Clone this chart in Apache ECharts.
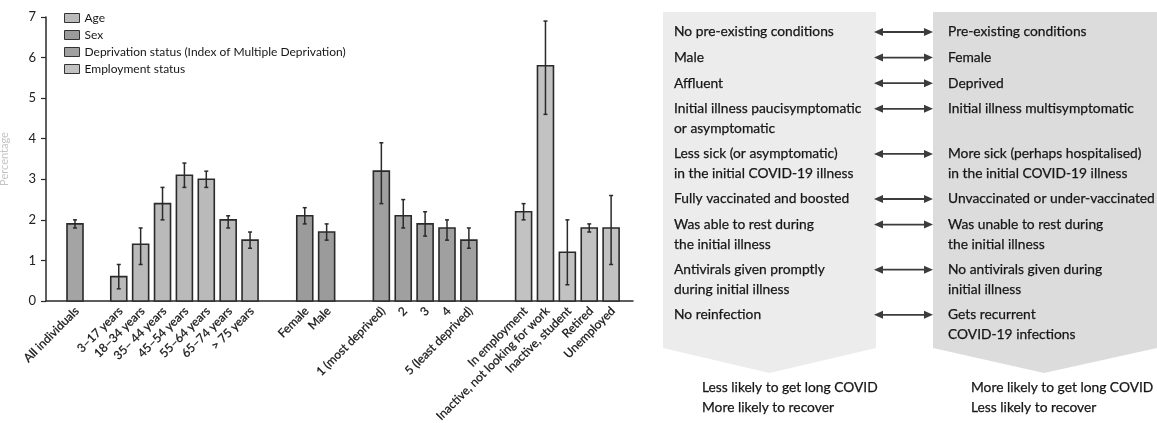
<!DOCTYPE html>
<html><head><meta charset="utf-8">
<script src="https://cdn.jsdelivr.net/npm/echarts@6.0.0/dist/echarts.min.js"></script>
<style>html,body{margin:0;padding:0;background:#fff}#c{width:1157px;height:423px}</style>
</head><body><div id="c"></div><script>
// ---------- DATA ----------
const allLabels = ['All individuals'];
const allValues = [1.9];
const allLow = [1.8];
const allHigh = [2.0];

const ageLabels = ['3–17 years', '18–34 years', '35– 44 years', '45–54 years', '55–64 years', '65–74 years', '> 75 years'];
const ageValues = [0.6, 1.4, 2.4, 3.1, 3.0, 2.0, 1.5];
const ageLow = [0.3, 0.9, 2.0, 2.8, 2.8, 1.8, 1.3];
const ageHigh = [0.9, 1.8, 2.8, 3.4, 3.2, 2.1, 1.7];

const sexLabels = ['Female', 'Male'];
const sexValues = [2.1, 1.7];
const sexLow = [1.9, 1.5];
const sexHigh = [2.3, 1.9];

const depLabels = ['1 (most deprived)', '2', '3', '4', '5 (least deprived)'];
const depValues = [3.2, 2.1, 1.9, 1.8, 1.5];
const depLow = [2.4, 1.8, 1.6, 1.5, 1.3];
const depHigh = [3.9, 2.5, 2.2, 2.0, 1.8];

const empLabels = ['In employment', 'Inactive, not looking for work', 'Inactive, student', 'Retired', 'Unemployed'];
const empValues = [2.2, 5.8, 1.2, 1.8, 1.8];
const empLow = [2.0, 4.6, 0.4, 1.7, 0.9];
const empHigh = [2.4, 6.9, 2.0, 1.9, 2.6];

const legendNames = ['Age', 'Sex', 'Deprivation status (Index of Multiple Deprivation)', 'Employment status'];
const yTicks = [0, 1, 2, 3, 4, 5, 6, 7];

const leftFactors = ['No pre-existing conditions', 'Male', 'Affluent', 'Initial illness paucisymptomatic\nor asymptomatic',
  'Less sick (or asymptomatic)\nin the initial COVID-19 illness', 'Fully vaccinated and boosted',
  'Was able to rest during\nthe initial illness', 'Antivirals given promptly\nduring initial illness', 'No reinfection'];
const rightFactors = ['Pre-existing conditions', 'Female', 'Deprived', 'Initial illness multisymptomatic',
  'More sick (perhaps hospitalised)\nin the initial COVID-19 illness', 'Unvaccinated or under-vaccinated',
  'Was unable to rest during\nthe initial illness', 'No antivirals given during\ninitial illness', 'Gets recurrent\nCOVID-19 infections'];
const leftOutcome = 'Less likely to get long COVID\nMore likely to recover';
const rightOutcome = 'More likely to get long COVID\nLess likely to recover';

// ---------- LAYOUT ----------
const FONT = 'Lato, "Open Sans", sans-serif';
const INK = '#161616';
const groupStart = [2.65, 6.65, 23.65, 30.65, 43.65]; // axis units
const STEP = 2;
const BAR_W = 16;
const groups = [
  {name: 'All individuals', labels: allLabels, v: allValues, lo: allLow, hi: allHigh, color: '#a4a4a4'},
  {name: legendNames[0], labels: ageLabels, v: ageValues, lo: ageLow, hi: ageHigh, color: '#bababa'},
  {name: legendNames[1], labels: sexLabels, v: sexValues, lo: sexLow, hi: sexHigh, color: '#9b9b9b'},
  {name: legendNames[2], labels: depLabels, v: depValues, lo: depLow, hi: depHigh, color: '#a0a0a0'},
  {name: legendNames[3], labels: empLabels, v: empValues, lo: empLow, hi: empHigh, color: '#c2c2c2'}
];

const series = groups.map((g, gi) => ({
  type: 'custom',
  name: g.name,
  itemStyle: {color: g.color},
  clip: false,
  data: g.v.map((v, i) => [groupStart[gi] + STEP * i, v, g.lo[i], g.hi[i]]),
  renderItem: function (params, api) {
    const x = api.value(0), v = api.value(1), lo = api.value(2), hi = api.value(3);
    const base = api.coord([x, 0]);
    const top = api.coord([x, v]);
    const pLo = api.coord([x, lo]);
    const pHi = api.coord([x, hi]);
    const cx = base[0];
    const ink = '#2a2a2a';
    return {
      type: 'group',
      children: [
        {type: 'rect', shape: {x: cx - BAR_W / 2, y: top[1], width: BAR_W, height: base[1] - top[1]},
          style: {fill: g.color, stroke: ink, lineWidth: 1.6}},
        {type: 'line', shape: {x1: cx, y1: pHi[1], x2: cx, y2: pLo[1]}, style: {stroke: ink, lineWidth: 1.5}},
        {type: 'line', shape: {x1: cx - 2, y1: pHi[1], x2: cx + 2, y2: pHi[1]}, style: {stroke: ink, lineWidth: 1.5}},
        {type: 'line', shape: {x1: cx - 2, y1: pLo[1], x2: cx + 2, y2: pLo[1]}, style: {stroke: ink, lineWidth: 1.5}},
        {type: 'text', x: cx + 2, y: base[1] + 8, rotation: Math.PI / 4,
          style: {text: g.labels[params.dataIndex], align: 'right', verticalAlign: 'middle',
            font: '12px ' + FONT, fill: INK, stroke: INK, lineWidth: 0.25}}
      ]
    };
  }
}));

// ---------- RIGHT PANEL ----------
const graphic = [];
const L = {x0: 663, x1: 876}, R = {x0: 933, x1: 1157};
const boxTop = 12, boxBot = 348, apex = 373;
graphic.push({type: 'polygon', shape: {points: [[L.x0, boxTop], [L.x1, boxTop], [L.x1, boxBot], [(L.x0 + L.x1) / 2, apex], [L.x0, boxBot]]},
  style: {fill: '#ececec'}, z: 0});
graphic.push({type: 'polygon', shape: {points: [[R.x0, boxTop], [R.x1, boxTop], [R.x1, boxBot], [(R.x0 + 1155) / 2, apex], [R.x0, boxBot]]},
  style: {fill: '#dcdcdc'}, z: 0});
const LH = 19.5;
const TFONT = '13.8px ' + FONT;
const tstyle = (t) => ({text: t, font: TFONT, fill: INK, stroke: INK, lineWidth: 0.25, lineHeight: LH, verticalAlign: 'top'});
let extra = 0;
leftFactors.forEach((t, i) => {
  const y = 32 + 25.6 * i + LH * extra;
  graphic.push({type: 'text', x: 674, y: y - LH / 2, style: tstyle(t), z: 2});
  graphic.push({type: 'text', x: 948, y: y - LH / 2, style: tstyle(rightFactors[i]), z: 2});
  const ac = '#3c3c3c';
  graphic.push({type: 'line', shape: {x1: 880, y1: y, x2: 928, y2: y}, style: {stroke: ac, lineWidth: 1.8}, z: 2});
  graphic.push({type: 'polygon', shape: {points: [[874, y], [883, y - 4], [883, y + 4]]}, style: {fill: ac}, z: 2});
  graphic.push({type: 'polygon', shape: {points: [[933, y], [924, y - 4], [924, y + 4]]}, style: {fill: ac}, z: 2});
  const lines = Math.max(t.split('\n').length, rightFactors[i].split('\n').length);
  extra += lines - 1;
});
graphic.push({type: 'text', x: 702, y: 388 - LH / 2, style: tstyle(leftOutcome)});
graphic.push({type: 'text', x: 971, y: 388 - LH / 2, style: tstyle(rightOutcome)});

const chart = echarts.init(document.getElementById('c'), null, {renderer: 'canvas'});
chart.setOption({
  animation: false,
  backgroundColor: '#ffffff',
  grid: {left: 46, right: 524, top: 17, bottom: 122, containLabel: false, outerBoundsMode: 'none'},
  legend: {
    data: legendNames, orient: 'vertical', left: 64, top: 12, padding: 0, itemWidth: 15, itemHeight: 9, itemGap: 5,
    icon: 'rect', selectedMode: false,
    itemStyle: {borderColor: '#333', borderWidth: 1},
    textStyle: {fontFamily: FONT, fontSize: 12, lineHeight: 12, color: INK, padding: [0, 0, 0, 0]}
  },
  xAxis: {type: 'value', min: 0, max: 53.65, axisLine: {show: true, onZero: false, lineStyle: {color: '#2a2a2a', width: 1.5}},
    axisTick: {show: false}, axisLabel: {show: false}, splitLine: {show: false}},
  yAxis: {type: 'value', min: yTicks[0], max: yTicks[yTicks.length - 1], interval: 1,
    name: 'Percentage', nameLocation: 'middle', nameGap: 36, nameRotate: 90,
    nameTextStyle: {color: '#c4c4c4', fontSize: 11, fontFamily: FONT},
    axisLine: {show: true, lineStyle: {color: '#2a2a2a', width: 1.5}},
    axisTick: {show: true, length: 5, lineStyle: {color: '#2a2a2a', width: 1.2}},
    axisLabel: {fontSize: 13, color: '#222', fontFamily: FONT, margin: 10},
    splitLine: {show: false}},
  series: series,
  graphic: {elements: graphic}
});
</script></body></html>
